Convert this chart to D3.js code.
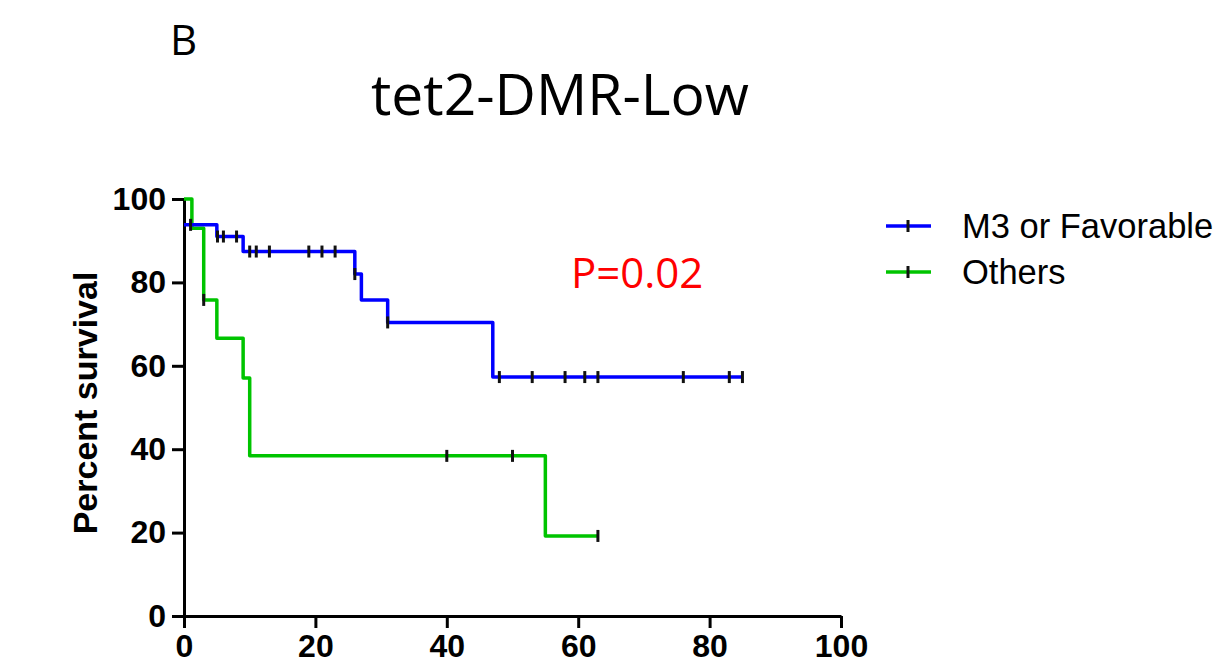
<!DOCTYPE html>
<html>
<head>
<meta charset="utf-8">
<script src="https://cdn.jsdelivr.net/npm/d3@7"></script>
<style>
  body { margin: 0; background: #fff; }
  svg { display: block; }
</style>
</head>
<body>
<div class="km"></div>
<script>
// survival curves (time in months, survival in %)
var favTimes = [0, 5, 9, 26, 27, 31, 47, 85];
var favSurv = [93.8, 91, 87.4, 82, 75.8, 70.4, 57.3, 57.3];
var favCensor = [1, 5.1, 6, 8, 10, 11, 13, 19, 21, 23, 26, 31, 48, 53, 58, 61, 63, 76, 83, 85];

var othTimes = [0, 1.2, 3, 5, 9, 10, 55, 63];
var othSurv = [100, 93, 75.8, 66.6, 57.1, 38.4, 19.2, 19.2];
var othCensor = [3, 40, 50, 63];

var xTicks = [0, 20, 40, 60, 80, 100];
var yTicks = [0, 20, 40, 60, 80, 100];
var seriesNames = ["M3 or Favorable", "Others"];
var seriesColors = ["#0000ff", "#00c400"];

var W = 1224, H = 672;
var margin = {top: 199, right: 383, bottom: 56, left: 184},
  width = W - margin.left - margin.right,
  height = H - margin.top - margin.bottom;

var svg = d3.select(".km")
    .append("svg")
    .attr("width", W)
    .attr("height", H);

svg.append("text")
    .attr("x", 170).attr("y", 55)
    .style("font-family", "'Open Sans', sans-serif")
    .style("font-size", "42px")
    .text("B");

svg.append("text")
    .attr("x", 560).attr("y", 115)
    .attr("text-anchor", "middle")
    .style("font-family", "'Open Sans', sans-serif")
    .style("font-size", "57px")
    .text("tet2-DMR-Low");

var g = svg.append("g")
    .attr("transform", "translate(" + margin.left + "," + margin.top + ")");

var x = d3.scaleLinear().domain([0, 100]).range([0, width]);
var y = d3.scaleLinear().domain([0, 100]).range([height, 0]);

var axisX = g.append("g")
    .attr("transform", "translate(0," + height + ")")
    .call(d3.axisBottom(x).tickValues(xTicks).tickSize(12).tickSizeOuter(0).tickPadding(6));

var axisY = g.append("g")
    .call(d3.axisLeft(y).tickValues(yTicks).tickSize(12).tickSizeOuter(0).tickPadding(6));

[axisX, axisY].forEach(function(a) {
  a.select(".domain").attr("stroke", "#000").attr("stroke-width", 3);
  a.selectAll(".tick line").attr("stroke", "#000").attr("stroke-width", 3);
  a.selectAll(".tick text")
    .attr("fill", "#000")
    .style("font-family", "'Liberation Sans', Arial, sans-serif")
    .style("font-weight", "bold")
    .style("font-size", "32px");
});

svg.append("text")
    .attr("transform", "translate(97,403)rotate(-90)")
    .attr("text-anchor", "middle")
    .style("font-family", "'Liberation Sans', Arial, sans-serif")
    .style("font-weight", "bold")
    .style("font-size", "34px")
    .text("Percent survival");

// step function helper for censor marks
function survAt(times, surv, t) {
  var s = surv[0];
  for (var i = 0; i < times.length; i++) { if (times[i] <= t) s = surv[i]; }
  return s;
}

var line = d3.line()
    .x(function(d) { return x(d[0]); })
    .y(function(d) { return y(d[1]); })
    .curve(d3.curveStepAfter);

var series = [
  {times: othTimes, surv: othSurv, censor: othCensor, color: seriesColors[1]},
  {times: favTimes, surv: favSurv, censor: favCensor, color: seriesColors[0]}
];

series.forEach(function(s) {
  g.append("path")
    .datum(d3.zip(s.times, s.surv))
    .attr("d", line)
    .attr("fill", "none")
    .attr("stroke", s.color)
    .attr("stroke-width", 3.5)
    .attr("stroke-linejoin", "round");
});

series.forEach(function(s) {
  g.selectAll(null)
    .data(s.censor)
    .enter()
    .append("line")
      .attr("x1", function(d) { return x(d); })
      .attr("x2", function(d) { return x(d); })
      .attr("y1", function(d) { return y(survAt(s.times, s.surv, d)) - 6; })
      .attr("y2", function(d) { return y(survAt(s.times, s.surv, d)) + 6; })
      .attr("stroke", "#111")
      .attr("stroke-width", 3);
});

svg.append("text")
    .attr("x", 571).attr("y", 288)
    .attr("fill", "#ff0000")
    .style("font-family", "'Open Sans', sans-serif")
    .style("font-size", "42px")
    .text("P=0.02");

// legend
var legend = svg.selectAll(".leg")
    .data(seriesNames)
    .enter()
    .append("g")
    .attr("transform", function(d, i) { return "translate(886," + (226 + i * 46) + ")"; });

legend.append("line")
    .attr("x1", 0).attr("x2", 45)
    .attr("stroke", function(d, i) { return seriesColors[i]; })
    .attr("stroke-width", 3.5);
legend.append("line")
    .attr("x1", 22).attr("x2", 22).attr("y1", -6).attr("y2", 6)
    .attr("stroke", "#111").attr("stroke-width", 3);
legend.append("text")
    .attr("x", 76).attr("y", 12)
    .style("font-family", "'Liberation Sans', Arial, sans-serif")
    .style("font-size", "34.5px")
    .text(function(d) { return d; });
</script>
</body>
</html>
